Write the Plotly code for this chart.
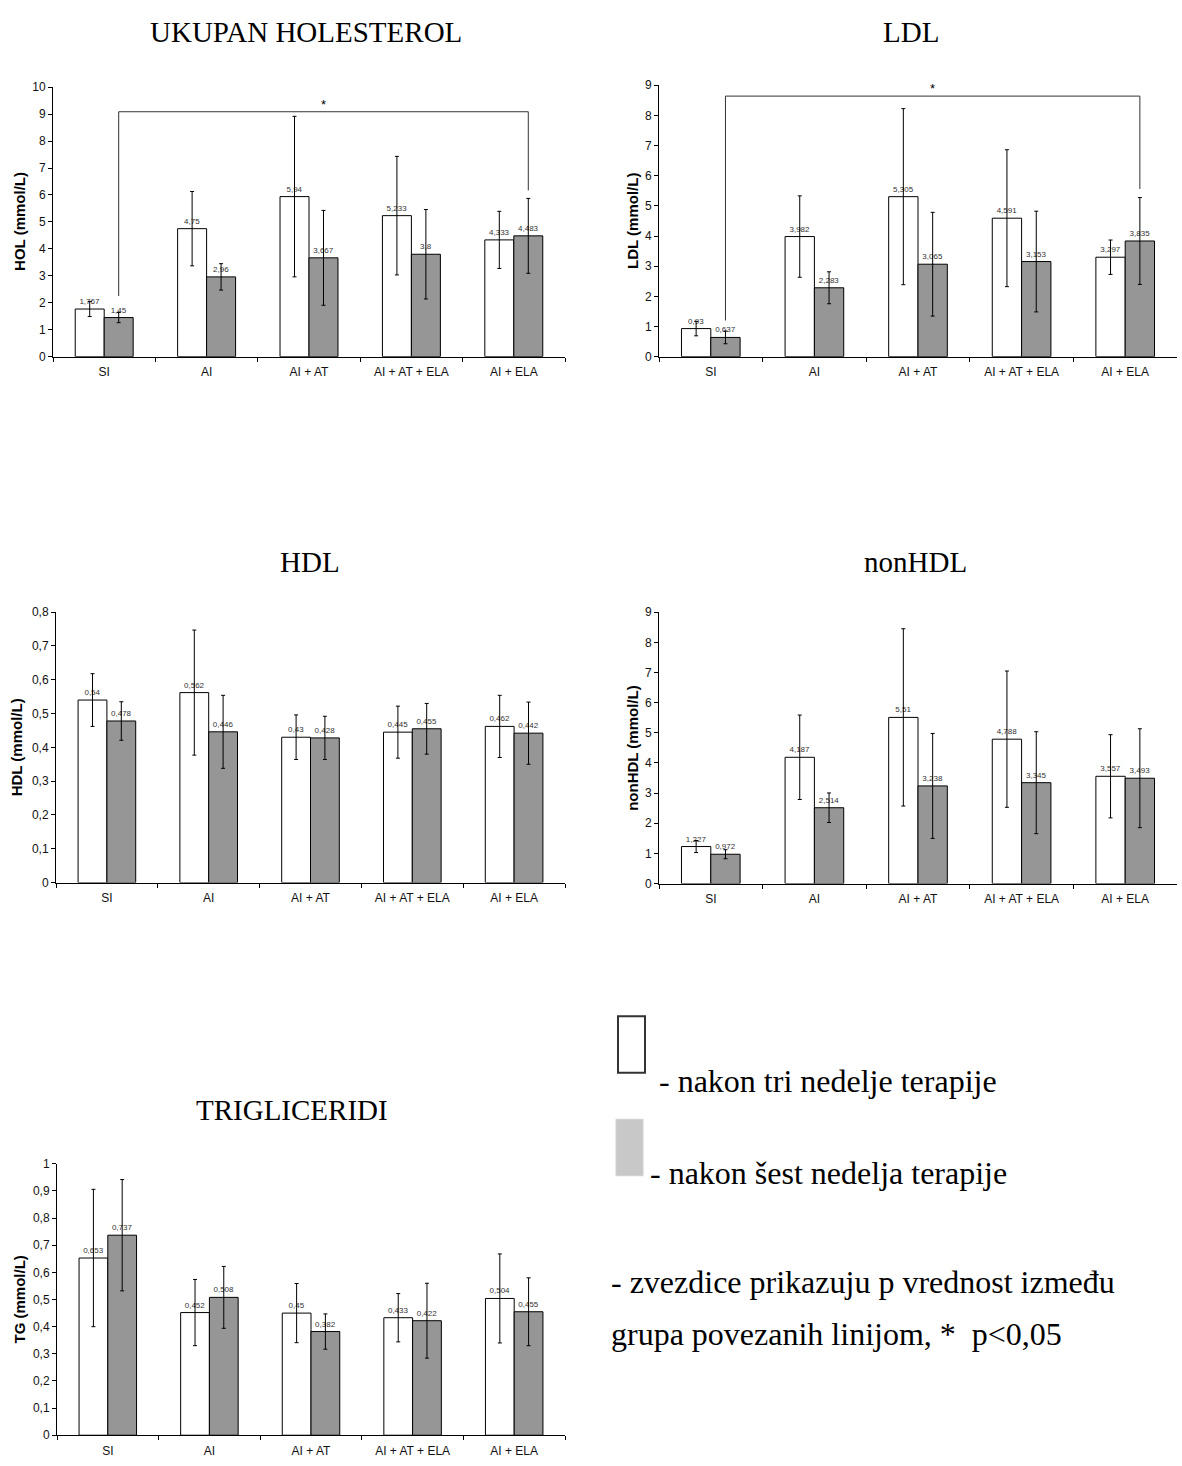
import plotly.graph_objects as go

W, H = 1182, 1466

categories = ["SI", "AI", "AI + AT", "AI + AT + ELA", "AI + ELA"]

# Ukupan holesterol
hol_3w = [1.767, 4.75, 5.94, 5.233, 4.333]
hol_3w_err = [0.28, 1.38, 2.98, 2.20, 1.06]
hol_6w = [1.45, 2.96, 3.667, 3.8, 4.483]
hol_6w_err = [0.19, 0.49, 1.76, 1.66, 1.39]

# LDL
ldl_3w = [0.93, 3.982, 5.305, 4.591, 3.297]
ldl_3w_err = [0.24, 1.35, 2.92, 2.27, 0.57]
ldl_6w = [0.637, 2.283, 3.065, 3.153, 3.835]
ldl_6w_err = [0.21, 0.53, 1.72, 1.67, 1.44]

# HDL
hdl_3w = [0.54, 0.562, 0.43, 0.445, 0.462]
hdl_3w_err = [0.078, 0.185, 0.066, 0.077, 0.092]
hdl_6w = [0.478, 0.446, 0.428, 0.455, 0.442]
hdl_6w_err = [0.057, 0.108, 0.064, 0.075, 0.092]

# nonHDL
nonhdl_3w = [1.227, 4.187, 5.51, 4.788, 3.557]
nonhdl_3w_err = [0.20, 1.40, 2.94, 2.26, 1.38]
nonhdl_6w = [0.972, 2.514, 3.238, 3.345, 3.493]
nonhdl_6w_err = [0.15, 0.49, 1.74, 1.69, 1.64]

# Trigliceridi
tg_3w = [0.653, 0.452, 0.45, 0.433, 0.504]
tg_3w_err = [0.253, 0.122, 0.109, 0.089, 0.164]
tg_6w = [0.737, 0.508, 0.382, 0.422, 0.455]
tg_6w_err = [0.205, 0.114, 0.065, 0.138, 0.125]

# significance brackets: (left bottom, top, right bottom) in data units
hol_bracket = [2.25, 9.09, 6.17]
ldl_bracket = [1.2, 8.64, 5.56]

BARGAP = 0.434
WHITE = "#ffffff"
GRAY = "#969696"
SERIF = "Liberation Serif, Times New Roman, serif"
SANS = "Liberation Sans, Arial, sans-serif"


def fmt(v):
    s = ("%.3f" % v).rstrip("0").rstrip(".")
    return s.replace(".", ",")


def px_x(p):
    return p / W


def px_y(p):
    return 1 - p / H


panels = [
    ("1", hol_3w, hol_3w_err, hol_6w, hol_6w_err, (53, 565), (353, 81), 10, 1,
     "HOL (mmol/L)", "UKUPAN HOLESTEROL", (306, 25), 20),
    ("2", ldl_3w, ldl_3w_err, ldl_6w, ldl_6w_err, (659, 1177), (353, 79), 9, 1,
     "LDL (mmol/L)", "LDL", (911, 25), 633),
    ("3", hdl_3w, hdl_3w_err, hdl_6w, hdl_6w_err, (56, 565), (884, 611), 0.8, 0.1,
     "HDL (mmol/L)", "HDL", (310, 560), 16),
    ("4", nonhdl_3w, nonhdl_3w_err, nonhdl_6w, nonhdl_6w_err, (659, 1177), (885, 611), 9, 1,
     "nonHDL (mmol/L)", "nonHDL", (915, 560), 633),
    ("5", tg_3w, tg_3w_err, tg_6w, tg_6w_err, (57, 565), (1442, 1168), 1, 0.1,
     "TG (mmol/L)", "TRIGLICERIDI", (292, 1114), 20),
]

fig = go.Figure()
layout = dict(
    width=W, height=H, margin=dict(l=0, r=0, t=0, b=0),
    paper_bgcolor="white", plot_bgcolor="white",
    barmode="group", bargap=BARGAP, bargroupgap=0,
    separators=",.", showlegend=False,
    font=dict(family=SANS, color="#111"),
)
annotations = []
shapes = []

for (n, w, we, g, ge, xd, yd, ymax, dt, ytitle, title, tpos, ytx) in panels:
    xa = "x" if n == "1" else "x" + n
    ya = "y" if n == "1" else "y" + n
    for vals, errs, col in ((w, we, WHITE), (g, ge, GRAY)):
        fig.add_trace(go.Bar(
            x=categories, y=vals, xaxis=xa, yaxis=ya,
            marker=dict(color=col, line=dict(color="#000", width=1)),
            error_y=dict(type="data", array=errs, visible=True,
                         color="#000", thickness=1, width=2),
            text=[fmt(v) for v in vals], textposition="outside",
            constraintext="none", cliponaxis=False,
            textfont=dict(size=8, color="#333", family=SANS),
            hoverinfo="skip",
        ))
    layout["xaxis" + ("" if n == "1" else n)] = dict(
        domain=[px_x(xd[0]), px_x(xd[1])], anchor=ya,
        showline=True, linecolor="#000", linewidth=1,
        ticks="outside", tickson="boundaries", ticklen=4, tickcolor="#000",
        ticklabelstandoff=4,
        tickfont=dict(size=12, family=SANS, color="#111"),
        showgrid=False, zeroline=False,
    )
    layout["yaxis" + ("" if n == "1" else n)] = dict(
        domain=[px_y(yd[0]), px_y(yd[1])], anchor=xa,
        range=[0, ymax], dtick=dt, tick0=0,
        showline=True, linecolor="#000", linewidth=1,
        ticks="outside", ticklen=4, tickcolor="#000",
        tickfont=dict(size=12, family=SANS, color="#111"),
        showgrid=False, zeroline=False,
    )
    annotations.append(dict(
        text=title, x=px_x(tpos[0]), y=px_y(tpos[1]), xref="paper", yref="paper",
        showarrow=False, xanchor="center", yanchor="middle",
        font=dict(family=SERIF, size=29, color="#000"),
    ))
    annotations.append(dict(
        text="<b>%s</b>" % ytitle, x=px_x(ytx), y=px_y((yd[0] + yd[1]) / 2),
        xref="paper", yref="paper", showarrow=False, textangle=-90,
        xanchor="center", yanchor="middle",
        font=dict(family=SANS, size=15, color="#000"),
    ))

# significance brackets (between second bars of first and last group)
off = (1 - BARGAP) / 4
for xa, ya, br in (("x", "y", hol_bracket), ("x2", "y2", ldl_bracket)):
    x_left = categories.index("SI") + off
    x_right = categories.index("AI + ELA") + off
    path = "M %f,%f L %f,%f L %f,%f L %f,%f" % (
        x_left, br[0], x_left, br[1], x_right, br[1], x_right, br[2])
    shapes.append(dict(type="path", path=path, xref=xa, yref=ya,
                       line=dict(color="#333", width=1)))
    annotations.append(dict(
        text="*", x=(x_left + x_right) / 2, y=br[1], xref=xa, yref=ya,
        showarrow=False, yanchor="bottom", yshift=-2,
        font=dict(family=SANS, size=13, color="#000"),
    ))

# legend / explanation block
shapes.append(dict(type="rect", xref="paper", yref="paper",
                   x0=px_x(618), x1=px_x(645), y0=px_y(1076), y1=px_y(1019),
                   line=dict(color="#333", width=2), fillcolor="white"))
shapes.append(dict(type="rect", xref="paper", yref="paper",
                   x0=px_x(616), x1=px_x(643), y0=px_y(1180), y1=px_y(1123),
                   line=dict(color="#d0d0d0", width=1), fillcolor="#c8c8c8"))
legend_texts = [
    ("- nakon tri nedelje terapije", 657, 1084),
    ("- nakon šest nedelja terapije", 648, 1177),
    ("- zvezdice prikazuju p vrednost između", 609, 1287),
    ("grupa povezanih linijom, *  p<0,05", 609, 1340),
]
for t, x, y in legend_texts:
    annotations.append(dict(
        text=t, x=px_x(x), y=px_y(y), xref="paper", yref="paper",
        showarrow=False, xanchor="left", yanchor="middle",
        font=dict(family=SERIF, size=32, color="#000"),
    ))

layout["annotations"] = annotations
layout["shapes"] = shapes
fig.update_layout(**layout)
fig.write_html(
    "out.html",
    config={"displayModeBar": False, "staticPlot": True},
    post_script="document.body.style.margin='0';document.body.style.padding='0';"
                "document.documentElement.style.overflow='hidden';",
)
